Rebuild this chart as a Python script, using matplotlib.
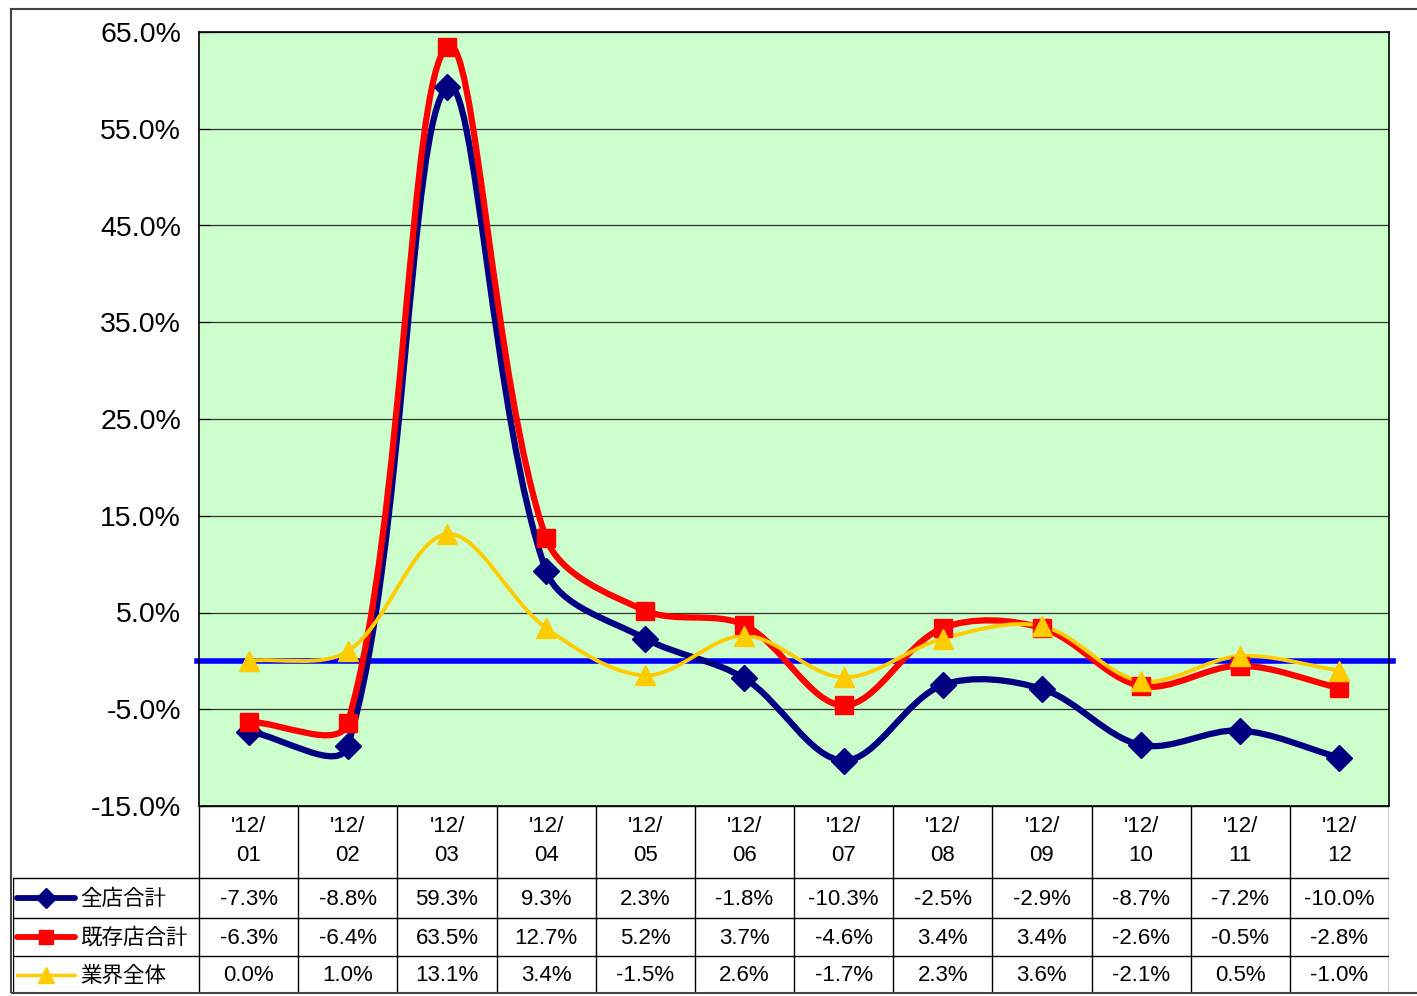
import matplotlib
matplotlib.use("Agg")
import matplotlib.pyplot as plt
import numpy as np
from matplotlib.path import Path
from matplotlib.patches import PathPatch, Rectangle
from matplotlib.lines import Line2D

# ---- data ----
MONTHS = ["'12/\n01", "'12/\n02", "'12/\n03", "'12/\n04", "'12/\n05", "'12/\n06",
          "'12/\n07", "'12/\n08", "'12/\n09", "'12/\n10", "'12/\n11", "'12/\n12"]
ALL_STORES = [-7.3, -8.8, 59.3, 9.3, 2.3, -1.8, -10.3, -2.5, -2.9, -8.7, -7.2, -10.0]
EXISTING = [-6.3, -6.4, 63.5, 12.7, 5.2, 3.7, -4.6, 3.4, 3.4, -2.6, -0.5, -2.8]
INDUSTRY = [0.0, 1.0, 13.1, 3.4, -1.5, 2.6, -1.7, 2.3, 3.6, -2.1, 0.5, -1.0]
SERIES_NAMES = ["全店合計", "既存店合計", "業界全体"]
Y_TICKS = [-15, -5, 5, 15, 25, 35, 45, 55, 65]

STYLES = [
    {"color": "#000080", "lw": 4.5, "marker": "D", "ms": 13},
    {"color": "#FF0000", "lw": 4.5, "marker": "s", "ms": 13},
    {"color": "#FFCC00", "lw": 2.8, "marker": "^", "ms": 15},
]

W, H = 1417, 996
FONT = ["Liberation Sans", "Noto Sans CJK JP", "DejaVu Sans"]
plt.rcParams["font.family"] = FONT


def smooth_path(ax, xs, ys):
    """Excel-like smoothed line: cubic Bezier with chord-weighted tangents."""
    pts = np.column_stack([xs, ys]).astype(float)
    pix = ax.transData.transform(pts)
    n = len(pts)
    verts = [tuple(pts[0])]
    codes = [Path.MOVETO]
    for i in range(n - 1):
        i0 = max(i - 1, 0)
        i3 = min(i + 2, n - 1)
        d01 = np.hypot(*(pix[i] - pix[i0]))
        d12 = np.hypot(*(pix[i + 1] - pix[i]))
        d23 = np.hypot(*(pix[i3] - pix[i + 1]))
        f1 = d12 / (d01 + d12) / 3
        f2 = d12 / (d12 + d23) / 3
        c1 = pts[i] + (pts[i + 1] - pts[i0]) * f1
        c2 = pts[i + 1] - (pts[i3] - pts[i]) * f2
        verts += [tuple(c1), tuple(c2), tuple(pts[i + 1])]
        codes += [Path.CURVE4] * 3
    return Path(verts, codes)


fig = plt.figure(figsize=(W / 100, H / 100), dpi=100)

# outer frame
fig.patches.append(Rectangle((11 / W, 1 - 993 / H), 1.5, (993 - 9) / H,
                             transform=fig.transFigure, fill=False,
                             edgecolor="#444444", lw=1.5))

# ---- main plot ----
L, R, T, B = 199, 1389, 32, 806
ax = fig.add_axes([L / W, 1 - B / H, (R - L) / W, (B - T) / H])
ax.set_facecolor("#CCFFCC")
ax.set_xlim(-0.5, len(MONTHS) - 0.5)
ax.set_ylim(-15, 65)
ax.set_yticks(Y_TICKS)
ax.set_yticklabels([f"{v:.1f}%" for v in Y_TICKS], fontsize=20.5)
ax.tick_params(axis="y", direction="in", length=8, pad=13, color="black")
ax.set_xticks([])
for s in ax.spines.values():
    s.set_color("black")
    s.set_linewidth(1.2)
for v in Y_TICKS:
    ax.axhline(v, color="#333333", lw=0.9, zorder=1)
ax.axhline(0, color="#0000FF", lw=4, zorder=2, clip_on=False,
           xmin=-0.002, xmax=1.003)

xs = list(range(len(MONTHS)))
for vals, st in zip([ALL_STORES, EXISTING, INDUSTRY], STYLES):
    ax.add_patch(PathPatch(smooth_path(ax, xs, vals), facecolor="none",
                           edgecolor=st["color"], lw=st["lw"], zorder=3,
                           capstyle="round", joinstyle="round"))
    ax.plot(xs, vals, ls="none", marker=st["marker"], ms=st["ms"],
            color=st["color"], zorder=4)

# ---- data table ----
TL = 13
col_w = (R - L) / len(MONTHS)
tax = fig.add_axes([TL / W, 1 - 993 / H, (R - TL) / W, (993 - B) / H])
tax.set_xlim(-(L - TL) / col_w, len(MONTHS))
tax.set_ylim(993, B)
tax.axis("off")

row_edges = [B, 878, 918, 956, 993]
line_kw = dict(color="black", lw=1.0)
for j in range(len(MONTHS) + 1):
    tax.plot([j, j], [B, 993], **line_kw)
x0 = -(L - TL) / col_w
tax.plot([0, len(MONTHS)], [B, B], **line_kw)
for y in row_edges[1:]:
    tax.plot([x0, len(MONTHS)], [y, y], **line_kw)
tax.plot([x0, x0], [878, 993], **line_kw)

for j, lab in enumerate(MONTHS):
    top, bottom = lab.split("\n")
    tax.text(j + 0.5, 826, top, ha="center", va="center", fontsize=16)
    tax.text(j + 0.5, 855, bottom, ha="center", va="center", fontsize=16)

for r, (vals, st, name) in enumerate(zip([ALL_STORES, EXISTING, INDUSTRY],
                                         STYLES, SERIES_NAMES)):
    yc = (row_edges[r + 1] + row_edges[r + 2]) / 2
    for j, v in enumerate(vals):
        tax.text(j + 0.5, yc + 1, f"{v:.1f}%", ha="center", va="center",
                 fontsize=16)
    kx0 = x0 + 4 / col_w
    kx1 = x0 + 62 / col_w
    tax.add_line(Line2D([kx0, kx1], [yc, yc], color=st["color"],
                        lw=st["lw"] - 0.3, solid_capstyle="round"))
    tax.plot([(kx0 + kx1) / 2], [yc], marker=st["marker"], ms=st["ms"] * 0.75,
             color=st["color"])
    tax.text(x0 + 67 / col_w, yc + 1, name, ha="left", va="center",
             fontsize=15.5, family=["Noto Sans CJK JP", "DejaVu Sans"])

fig.savefig("out.png", dpi=100, facecolor="white")
